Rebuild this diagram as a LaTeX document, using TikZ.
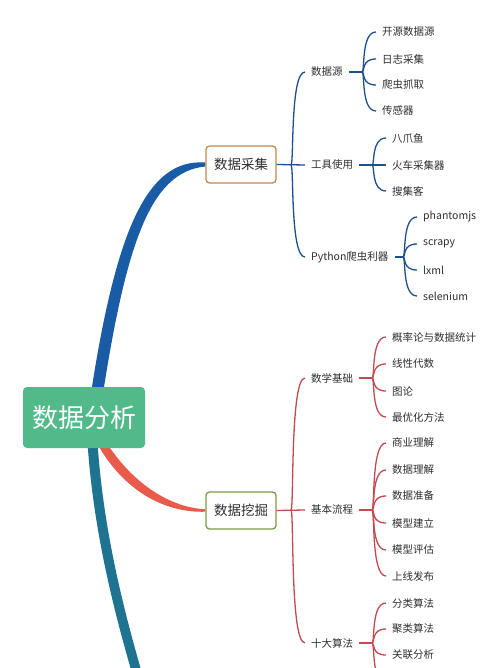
\documentclass[tikz,border=0pt]{standalone}
\usepackage{fontspec}
\setmainfont{Noto Sans CJK SC}
\usetikzlibrary{calc,backgrounds}
\definecolor{bluemain}{HTML}{1A5BA6}
\definecolor{tealmain}{HTML}{1E7391}
\definecolor{redmain}{HTML}{E85A4A}
\definecolor{rootgreen}{HTML}{52B98A}
\definecolor{boxorange}{HTML}{C6874B}
\definecolor{boxgreen}{HTML}{7C9C45}
\definecolor{subblue}{HTML}{1E4F8F}
\definecolor{subred}{HTML}{C24A52}
\definecolor{txt}{HTML}{2E2E2E}
\newcommand\brlink[3][]{\draw[#1] (#2) .. controls ($(#2)+(3,0)$) and ($(#2|-#3.west)+(-1,0)$) .. (#3.west);}
\begin{document}
\begin{tikzpicture}[x=1pt,y=-1pt,
  lbl/.style={anchor=west,inner xsep=6pt,inner ysep=1pt,font=\fontsize{10.5}{12}\selectfont,text=txt},
  rootbox/.style={fill=rootgreen,text=white,rounded corners=4pt,minimum width=122pt,minimum height=61pt,font=\fontsize{26}{30}\selectfont},
  midbox/.style={fill=white,rounded corners=3.5pt,line width=1.3pt,minimum width=70pt,minimum height=37pt,text=txt,font=\fontsize{13.5}{16}\selectfont},
  bsub/.style={draw=subblue,line width=1.3pt},
  bsubr/.style={draw=subblue,line width=2.2pt},
  rsub/.style={draw=subred,line width=1.3pt},
  rsubr/.style={draw=subred,line width=2.2pt}]
\useasboundingbox (0,0) rectangle (500,668);
\clip (0,0) rectangle (500,668);

% main nodes
\node[rootbox] (root) at (84,417.5) {数据分析};
\node[midbox,draw=boxorange] (cj) at (241,164.5) {数据采集};
\node[midbox,draw=boxgreen] (wj) at (241,510.5) {数据挖掘};

% level 2 (blue)
\node[lbl] (src) at (305,72) {数据源};
\node[lbl] (tool) at (305,165) {工具使用};
\node[lbl] (py) at (305,257) {Python爬虫利器};
% level 3 (blue)
\node[lbl] (s1) at (376,32) {开源数据源};
\node[lbl] (s2) at (376,59) {日志采集};
\node[lbl] (s3) at (376,85) {爬虫抓取};
\node[lbl] (s4) at (376,111) {传感器};
\node[lbl] (t1) at (386,138) {八爪鱼};
\node[lbl] (t2) at (386,165) {火车采集器};
\node[lbl] (t3) at (386,191) {搜集客};
\node[lbl] (p1) at (417,217) {phantomjs};
\node[lbl] (p2) at (417,244) {scrapy};
\node[lbl] (p3) at (417,270) {lxml};
\node[lbl] (p4) at (417,296) {selenium};

% level 2 (red)
\node[lbl] (math) at (305,378) {数学基础};
\node[lbl] (flow) at (305,510) {基本流程};
\node[lbl] (algo) at (305,643) {十大算法};
% level 3 (red)
\node[lbl] (m1) at (386,337) {概率论与数据统计};
\node[lbl] (m2) at (386,364) {线性代数};
\node[lbl] (m3) at (386,391) {图论};
\node[lbl] (m4) at (386,417) {最优化方法};
\node[lbl] (f1) at (386,443) {商业理解};
\node[lbl] (f2) at (386,470) {数据理解};
\node[lbl] (f3) at (386,496) {数据准备};
\node[lbl] (f4) at (386,523) {模型建立};
\node[lbl] (f5) at (386,550) {模型评估};
\node[lbl] (f6) at (386,576) {上线发布};
\node[lbl] (a1) at (386,603) {分类算法};
\node[lbl] (a2) at (386,629) {聚类算法};
\node[lbl] (a3) at (386,655) {关联分析};
\coordinate (a4) at (386,682);

% junctions
\coordinate (ja) at (291,165);
\coordinate (jb) at (291,510);
\coordinate (js) at (362,72);
\coordinate (jt) at (372,165);
\coordinate (jp) at (403,257);
\coordinate (jm) at (372,378);
\coordinate (jf) at (372,510);
\coordinate (jg) at (372,643);

\begin{scope}[on background layer]
\fill[white] (0,0) rectangle (500,668);
% thick tapered main branches
\fill[tealmain] (87,435) .. controls (92,520) and (110,600) .. (137,690) -- (147,690) .. controls (120,600) and (102,520) .. (97,435) -- cycle;
\fill[bluemain] (87,420) .. controls (113,238) and (144,158) .. ($(cj.west)+(0,-2)$) -- ($(cj.west)+(0,2)$) .. controls (150,172) and (125,242) .. (99,420) -- cycle;
\fill[redmain] (108,445) .. controls (134,484) and (170,507.5) .. ($(wj.west)+(0,-1.2)$) -- ($(wj.west)+(0,1.2)$) .. controls (168,513) and (126,494) .. (98,445) -- cycle;
\end{scope}

% blue sub-branches
\draw[bsub] (cj.east) -- (tool.west);
\brlink[bsub]{ja}{src}
\brlink[bsub]{ja}{py}
\draw[bsubr] (src.east) -- (js);
\brlink[bsub]{js}{s1}
\brlink[bsub]{js}{s2}
\brlink[bsub]{js}{s3}
\brlink[bsub]{js}{s4}
\draw[bsubr] (tool.east) -- (jt);
\draw[bsub] (jt) -- (t2.west);
\brlink[bsub]{jt}{t1}
\brlink[bsub]{jt}{t3}
\draw[bsubr] (py.east) -- (jp);
\brlink[bsub]{jp}{p1}
\brlink[bsub]{jp}{p2}
\brlink[bsub]{jp}{p3}
\brlink[bsub]{jp}{p4}

% red sub-branches
\draw[rsub] (wj.east) -- (flow.west);
\brlink[rsub]{jb}{math}
\brlink[rsub]{jb}{algo}
\draw[rsubr] (math.east) -- (jm);
\brlink[rsub]{jm}{m1}
\brlink[rsub]{jm}{m2}
\brlink[rsub]{jm}{m3}
\brlink[rsub]{jm}{m4}
\draw[rsubr] (flow.east) -- (jf);
\brlink[rsub]{jf}{f1}
\brlink[rsub]{jf}{f2}
\brlink[rsub]{jf}{f3}
\brlink[rsub]{jf}{f4}
\brlink[rsub]{jf}{f5}
\brlink[rsub]{jf}{f6}
\draw[rsubr] (algo.east) -- (jg);
\brlink[rsub]{jg}{a1}
\brlink[rsub]{jg}{a2}
\brlink[rsub]{jg}{a3}
\draw[rsub] (jg) .. controls ($(jg)+(3,0)$) and ($(jg|-a4)+(-1,0)$) .. (a4);
\end{tikzpicture}
\end{document}
